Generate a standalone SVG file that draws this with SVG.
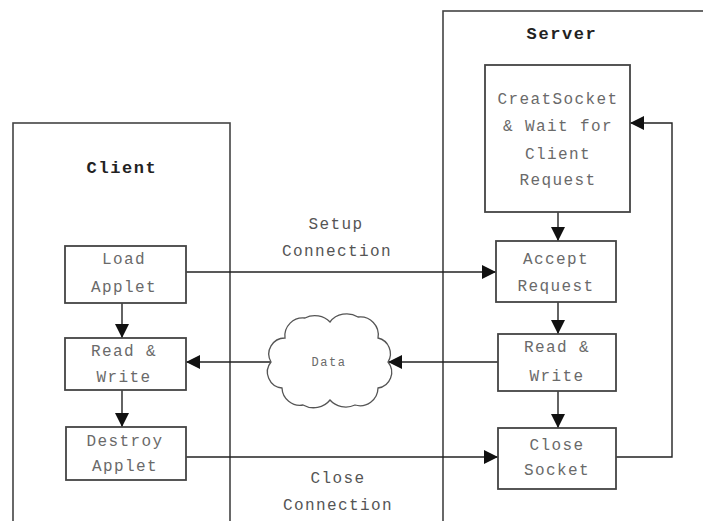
<svg xmlns="http://www.w3.org/2000/svg" width="703" height="521" viewBox="0 0 703 521">
<style>
.frame{fill:none;stroke:#444;stroke-width:1.6}
.box{fill:#fff;stroke:#444;stroke-width:1.8}
.t{font-family:"Liberation Mono","DejaVu Sans Mono",monospace;font-size:16px;letter-spacing:1.4px;fill:#6a6a6a;text-anchor:middle;dominant-baseline:central}
.title{font-family:"Liberation Mono","DejaVu Sans Mono",monospace;font-size:17px;letter-spacing:1.6px;fill:#222;font-weight:bold;text-anchor:middle;dominant-baseline:central}
.lbl{font-family:"Liberation Mono","DejaVu Sans Mono",monospace;font-size:16px;letter-spacing:1.4px;fill:#555;text-anchor:middle;dominant-baseline:central}
.c{fill:none;stroke:#222;stroke-width:1.4}
</style>
<defs>
<marker id="ah" markerUnits="userSpaceOnUse" markerWidth="14" markerHeight="14" viewBox="0 0 14 14" refX="14" refY="7" orient="auto">
<path d="M0,0 L14,7 L0,14 Z" fill="#111"/>
</marker>
</defs>
<rect class="frame" x="13" y="123" width="217" height="430"/>
<rect class="frame" x="443" y="11" width="300" height="560"/>
<text class="title" x="122" y="168">Client</text>
<text class="title" x="562" y="34">Server</text>
<g id="connectors">
<line class="c" x1="122" y1="303" x2="122" y2="338" marker-end="url(#ah)"/>
<line class="c" x1="122" y1="390" x2="122" y2="427" marker-end="url(#ah)"/>
<line class="c" x1="558" y1="212" x2="558" y2="241" marker-end="url(#ah)"/>
<line class="c" x1="558" y1="302" x2="558" y2="334" marker-end="url(#ah)"/>
<line class="c" x1="558" y1="391" x2="558" y2="428" marker-end="url(#ah)"/>
<path class="c" d="M616 457 H672 V123 H630" marker-end="url(#ah)"/>
<line class="c" x1="186" y1="272" x2="496" y2="272" marker-end="url(#ah)"/>
<line class="c" x1="498" y1="362" x2="388" y2="362" marker-end="url(#ah)"/>
<line class="c" x1="271" y1="362" x2="186" y2="362" marker-end="url(#ah)"/>
<line class="c" x1="186" y1="457" x2="498" y2="457" marker-end="url(#ah)"/>
<text class="lbl" x="336" y="225">Setup</text>
<text class="lbl" x="337" y="252">Connection</text>
<text class="lbl" x="338" y="479">Close</text>
<text class="lbl" x="338" y="506">Connection</text>
</g>
<g id="load-applet">
<rect class="box" x="65" y="246" width="121" height="57"/>
<text class="t" x="124" y="260">Load</text>
<text class="t" x="124" y="288">Applet</text>
</g>
<g id="client-read-write">
<rect class="box" x="65" y="338" width="121" height="52"/>
<text class="t" x="124" y="352">Read &amp;</text>
<text class="t" x="124" y="378">Write</text>
</g>
<g id="destroy-applet">
<rect class="box" x="66" y="427" width="120" height="53"/>
<text class="t" x="125" y="442">Destroy</text>
<text class="t" x="125" y="467">Applet</text>
</g>
<g id="data-cloud">
<path d="M285 338 A18 18 0 0 1 305 318 A20 18 0 0 1 330 322 A20 18 0 0 1 358 317 A18 18 0 0 1 378 338 A16 16 0 0 1 388 362 A16 16 0 0 1 378 388 A18 18 0 0 1 355 405 A20 18 0 0 1 330 400 A20 18 0 0 1 303 405 A18 18 0 0 1 282 388 A16 16 0 0 1 271 362 A16 16 0 0 1 285 338 Z" fill="#fff" stroke="#555" stroke-width="1.3"/>
<text class="t" x="329" y="363" style="font-size:12px;letter-spacing:1.5px">Data</text>
</g>
<g id="create-socket">
<rect class="box" x="485" y="65" width="145" height="147"/>
<text class="t" x="558" y="100">CreatSocket</text>
<text class="t" x="558" y="127">&amp; Wait for</text>
<text class="t" x="558" y="155">Client</text>
<text class="t" x="558" y="181">Request</text>
</g>
<g id="accept-request">
<rect class="box" x="496" y="241" width="120" height="61"/>
<text class="t" x="556" y="260">Accept</text>
<text class="t" x="556" y="287">Request</text>
</g>
<g id="server-read-write">
<rect class="box" x="498" y="334" width="118" height="57"/>
<text class="t" x="557" y="348">Read &amp;</text>
<text class="t" x="557" y="377">Write</text>
</g>
<g id="close-socket">
<rect class="box" x="498" y="428" width="118" height="61"/>
<text class="t" x="557" y="446">Close</text>
<text class="t" x="557" y="471">Socket</text>
</g>
</svg>
